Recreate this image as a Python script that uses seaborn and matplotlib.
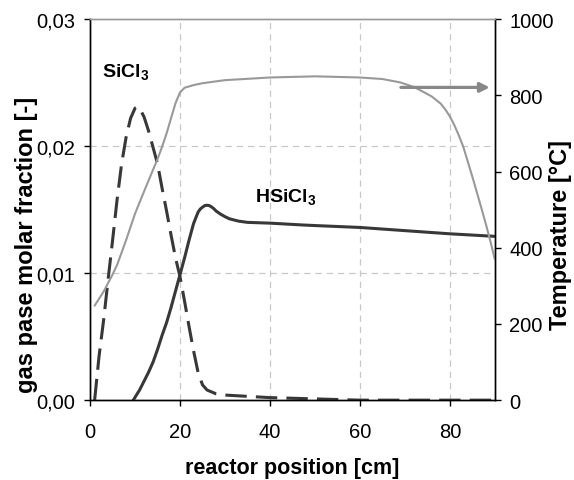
import matplotlib
matplotlib.use('Agg')
import matplotlib.pyplot as plt
import seaborn as sns

# reactor position [cm] and readings
sicl3_x = [1, 2, 3, 4, 5, 6, 7, 8, 9, 10, 10.5, 11, 12, 13, 14, 15, 16, 17, 18, 19,
           20, 21, 22, 23, 24, 25, 26, 28, 30, 35, 40, 50, 60, 70, 80, 90]
sicl3_y = [0.0, 0.0035, 0.0063, 0.0095, 0.0126, 0.0158, 0.0186, 0.0207, 0.0222, 0.0230,
           0.0231, 0.0230, 0.0223, 0.0212, 0.0199, 0.0186, 0.0167, 0.0149, 0.0130, 0.0112,
           0.0097, 0.0078, 0.0058, 0.0039, 0.0022, 0.0012, 0.0008, 0.0005, 0.0004, 0.0003,
           0.0002, 0.0001, 0.0, 0.0, 0.0, 0.0]

hsicl3_x = [9.6, 11, 12, 13, 14, 15, 16, 17, 18, 19, 20, 21, 22, 23, 24, 24.5, 25, 25.5,
            26, 26.5, 27, 27.5, 28, 29, 30, 31, 33, 35, 40, 47, 50, 60, 70, 80, 90]
hsicl3_y = [0.0, 0.0008, 0.0015, 0.0022, 0.0030, 0.0040, 0.0051, 0.0061, 0.0073, 0.0086,
            0.0099, 0.0112, 0.0126, 0.0139, 0.0148, 0.01505, 0.0152, 0.01532, 0.01535,
            0.01532, 0.01522, 0.01508, 0.0149, 0.01465, 0.01445, 0.01428, 0.0141, 0.01400,
            0.01394, 0.0138, 0.01375, 0.0136, 0.01335, 0.0131, 0.0129]

temp_x = [1, 3, 5, 6, 8, 10, 12, 14, 15, 16, 17, 18, 19, 20, 21, 23, 25, 30, 40, 50,
          60, 65, 69, 72, 74, 76, 78, 79, 80, 81, 82, 83, 84, 85, 86, 87, 88, 89, 90]
temp_y = [248, 285, 330, 355, 420, 490, 548, 605, 633, 665, 700, 740, 780, 808, 820, 827,
          832, 840, 847, 850, 847, 843, 834, 822, 810, 797, 778, 763, 745, 722, 695, 665,
          626, 587, 546, 505, 463, 418, 370]

x_ticks = [0, 20, 40, 60, 80]
y_ticks = [0.0, 0.01, 0.02, 0.03]
y_labels = ['0,00', '0,01', '0,02', '0,03']
t_ticks = [0, 200, 400, 600, 800, 1000]

sns.set_theme(style='ticks')
plt.rcParams['font.family'] = ['Liberation Sans', 'DejaVu Sans']
plt.rcParams.update({
    'text.color': 'black', 'axes.labelcolor': 'black',
    'xtick.color': 'black', 'ytick.color': 'black',
    'mathtext.fontset': 'custom',
    'mathtext.rm': 'Liberation Sans',
    'mathtext.bf': 'Liberation Sans:bold',
})

dark = '#383838'
grey = '#999999'

fig = plt.figure(figsize=(5.74, 4.81), dpi=100)
ax = fig.add_axes([0.157, 0.166, 0.705, 0.792])
ax2 = ax.twinx()

sns.lineplot(x=sicl3_x, y=sicl3_y, ax=ax, color=dark, linewidth=2.2, zorder=3)
ax.lines[-1].set_dashes((7, 3))
sns.lineplot(x=hsicl3_x, y=hsicl3_y, ax=ax, color=dark, linewidth=2.2, zorder=3)
sns.lineplot(x=temp_x, y=temp_y, ax=ax2, color=grey, linewidth=1.5)

ax.set_xlim(0, 90)
ax.set_ylim(0, 0.03)
ax2.set_ylim(0, 1000)
ax.set_xticks(x_ticks)
ax.set_yticks(y_ticks)
ax.set_yticklabels(y_labels)
ax2.set_yticks(t_ticks)

for xv in x_ticks[1:]:
    ax.axvline(xv, color='#c8c8c8', lw=0.9, ls=(0, (5, 4)), zorder=0)
for yv in y_ticks[1:3]:
    ax.axhline(yv, color='#c8c8c8', lw=0.9, ls=(0, (5, 4)), zorder=0)

for a in (ax, ax2):
    a.tick_params(labelsize=14.5, length=4.5, width=1, color='black', pad=6)
    for s in ('left', 'right', 'bottom'):
        a.spines[s].set_color('black')
        a.spines[s].set_linewidth(1.0)
    a.spines['top'].set_color('#999999')
    a.spines['top'].set_linewidth(1.0)
ax.tick_params(axis='x', pad=11)

ax.set_xlabel('reactor position [cm]', fontsize=15.5, fontweight='bold', va='center')
ax.set_ylabel('gas pase molar fraction [-]', fontsize=17, fontweight='bold', va='center')
ax2.set_ylabel('Temperature [°C]', fontsize=17, fontweight='bold', va='center')
ax.xaxis.set_label_coords(0.5, -0.176)
ax.yaxis.set_label_coords(-0.156, 0.41)
ax2.yaxis.set_label_coords(1.163, 0.436)

ax.text(2.67, 0.0255, r'$\mathbf{SiCl_3}$', fontsize=14, ha='left', va='baseline')
ax.text(36.7, 0.01567, r'$\mathbf{HSiCl_3}$', fontsize=14, ha='left', va='baseline')

ax2.annotate('', xy=(89.5, 821), xytext=(68.5, 821),
             arrowprops=dict(arrowstyle='-|>', color='#888888', lw=2.3,
                             mutation_scale=14))

fig.savefig('out.png', dpi=100)
